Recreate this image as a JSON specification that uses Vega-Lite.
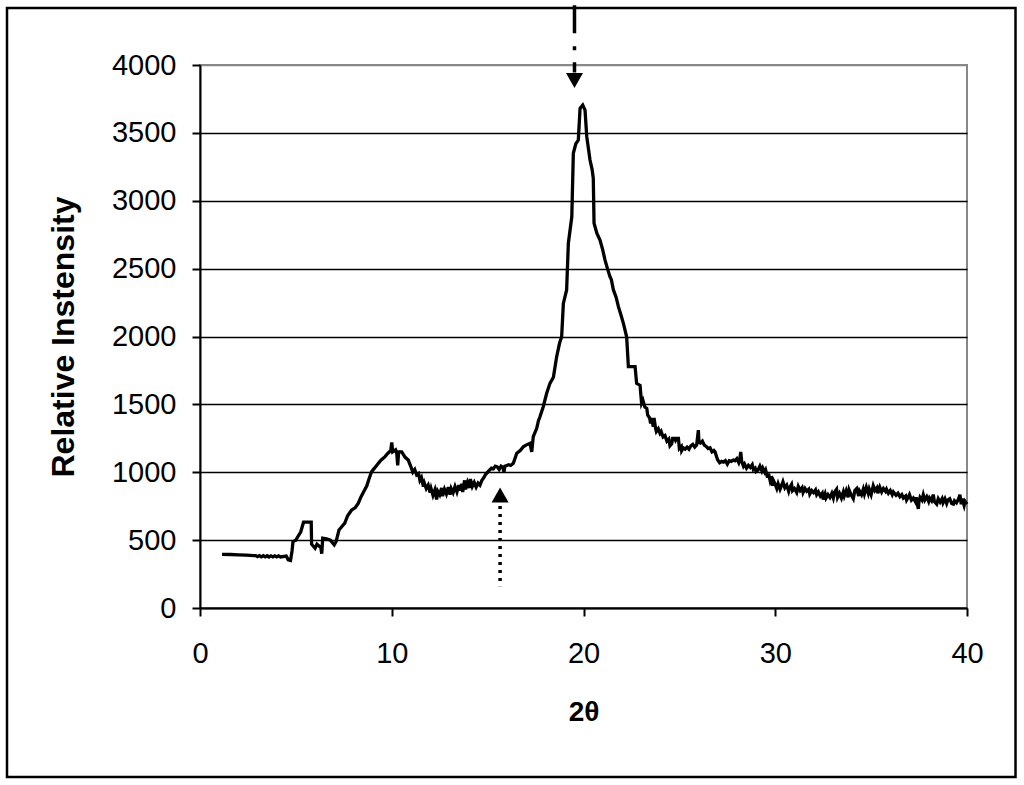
{
  "$schema": "https://vega.github.io/schema/vega-lite/v6.json",
  "width": 767,
  "height": 543,
  "autosize": "none",
  "padding": {"left": 200, "top": 65, "right": 57, "bottom": 177},
  "background": "white",
  "config": {
    "view": {"stroke": "#888888", "strokeWidth": 2},
    "font": "Liberation Sans",
    "axis": {
      "domainColor": "black", "domainWidth": 2,
      "tickColor": "black", "tickWidth": 2, "tickSize": 8,
      "labelFont": "Liberation Sans", "labelFontSize": 29, "labelColor": "black",
      "labelFlush": false, "labelOverlap": false,
      "titleFont": "Liberation Sans", "titleFontSize": 28, "titleFontWeight": "bold", "titleColor": "black",
      "gridColor": "black", "gridWidth": 1.5
    },
    "axisX": {"grid": false, "labelPadding": 23, "titlePadding": 30},
    "axisY": {"grid": true, "labelPadding": 16, "titlePadding": 31, "titleFontSize": 32}
  },
  "layer": [
    {
      "data": {"values": [{"x": -10.065, "x2": 42.53, "y": -1245, "y2": 4420}]},
      "mark": {"type": "rect", "filled": false, "color": "black", "strokeWidth": 2.5, "clip": false},
      "encoding": {
        "x": {"field": "x", "type": "quantitative", "title": "2θ", "scale": {"domain": [0, 40], "nice": false}},
        "x2": {"field": "x2"},
        "y": {"field": "y", "type": "quantitative", "title": "Relative Instensity", "scale": {"domain": [0, 4000], "nice": false}},
        "y2": {"field": "y2"}
      }
    },
    {
      "data": {"values": [
        {"x":1.15,"y":395},{"x":1.6,"y":394},{"x":2.0,"y":392},{"x":2.4,"y":389},{"x":2.8,"y":386},
        {"x":2.9,"y":386},{"x":3.0,"y":378},{"x":3.1,"y":386},{"x":3.2,"y":377},{"x":3.3,"y":385},{"x":3.4,"y":377},{"x":3.5,"y":385},{"x":3.6,"y":376},{"x":3.7,"y":384},{"x":3.8,"y":376},{"x":3.9,"y":384},{"x":4.0,"y":376},{"x":4.1,"y":384},{"x":4.2,"y":376},
        {"x":4.5,"y":383},{"x":4.6,"y":355},{"x":4.72,"y":350},{"x":4.8,"y":420},{"x":4.85,"y":490},{"x":5.0,"y":500},{"x":5.1,"y":525},{"x":5.25,"y":560},{"x":5.4,"y":632},{"x":5.8,"y":632},
        {"x":5.82,"y":470},{"x":6.0,"y":440},{"x":6.1,"y":470},{"x":6.3,"y":445},{"x":6.35,"y":400},{"x":6.4,"y":515},{"x":6.6,"y":510},{"x":6.8,"y":500},{"x":7.0,"y":465},{"x":7.1,"y":490},
        {"x":7.25,"y":575},{"x":7.4,"y":600},{"x":7.55,"y":625},{"x":7.7,"y":680},{"x":7.9,"y":720},{"x":8.1,"y":740},{"x":8.25,"y":770},{"x":8.4,"y":820},{"x":8.55,"y":860},{"x":8.7,"y":900},
        {"x":8.8,"y":945},{"x":8.95,"y":1005},{"x":9.1,"y":1030},{"x":9.3,"y":1066},{"x":9.45,"y":1090},{"x":9.65,"y":1115},{"x":9.8,"y":1140},{"x":9.95,"y":1160},{"x":10.0,"y":1220},{"x":10.05,"y":1150},
        {"x":10.2,"y":1165},{"x":10.26,"y":1140},{"x":10.31,"y":1050},{"x":10.36,"y":1150},{"x":10.52,"y":1150},{"x":10.7,"y":1110},{"x":10.86,"y":1090},{"x":11.0,"y":1040},
        {"x":11.1,"y":1000},{"x":11.2,"y":1020},{"x":11.3,"y":980},{"x":11.4,"y":990},{"x":11.47,"y":940},{"x":11.55,"y":960},{"x":11.65,"y":894},{"x":11.7,"y":920},{"x":11.8,"y":880},{"x":11.9,"y":905},
        {"x":12.0,"y":850},{"x":12.05,"y":880},{"x":12.15,"y":830},{"x":12.25,"y":870},{"x":12.34,"y":800},{"x":12.4,"y":860},{"x":12.5,"y":835},{"x":12.6,"y":885},{"x":12.65,"y":825},{"x":12.75,"y":875},
        {"x":12.85,"y":840},{"x":12.95,"y":890},{"x":13.04,"y":835},{"x":13.1,"y":880},{"x":13.2,"y":850},{"x":13.3,"y":895},{"x":13.4,"y":855},{"x":13.5,"y":905},{"x":13.56,"y":865},{"x":13.65,"y":915},
        {"x":13.7,"y":855},{"x":13.8,"y":940},{"x":13.85,"y":875},{"x":13.95,"y":925},{"x":14.05,"y":885},{"x":14.1,"y":950},{"x":14.2,"y":895},{"x":14.3,"y":925},{"x":14.4,"y":890},{"x":14.5,"y":920},
        {"x":14.6,"y":905},{"x":14.7,"y":940},{"x":14.8,"y":960},{"x":14.9,"y":985},{"x":15.0,"y":1000},{"x":15.1,"y":1015},{"x":15.2,"y":1030},{"x":15.3,"y":1025},{"x":15.4,"y":1045},{"x":15.5,"y":1040},
        {"x":15.6,"y":1020},{"x":15.7,"y":1045},{"x":15.8,"y":1035},{"x":15.85,"y":1000},{"x":15.9,"y":1045},{"x":16.0,"y":1050},{"x":16.1,"y":1055},{"x":16.2,"y":1050},{"x":16.34,"y":1066},
        {"x":16.52,"y":1140},{"x":16.7,"y":1160},{"x":16.86,"y":1188},{"x":17.0,"y":1200},
        {"x":17.21,"y":1213},{"x":17.3,"y":1150},{"x":17.38,"y":1262},{"x":17.56,"y":1324},{"x":17.65,"y":1380},{"x":17.73,"y":1409},{"x":17.9,"y":1483},{"x":18.08,"y":1582},{"x":18.25,"y":1655},{"x":18.43,"y":1700},
        {"x":18.6,"y":1851},{"x":18.75,"y":1950},{"x":18.86,"y":1998},{"x":18.95,"y":2244},{"x":19.12,"y":2343},{"x":19.21,"y":2687},{"x":19.39,"y":2882},{"x":19.47,"y":3350},{"x":19.6,"y":3420},{"x":19.73,"y":3447},
        {"x":19.82,"y":3681},{"x":19.96,"y":3705},{"x":20.08,"y":3668},{"x":20.17,"y":3472},{"x":20.34,"y":3300},{"x":20.45,"y":3230},{"x":20.51,"y":3165},{"x":20.55,"y":2834},{"x":20.7,"y":2760},{"x":20.86,"y":2711},
        {"x":21.0,"y":2640},{"x":21.12,"y":2564},{"x":21.25,"y":2500},{"x":21.38,"y":2441},{"x":21.45,"y":2420},{"x":21.56,"y":2343},{"x":21.7,"y":2290},{"x":21.82,"y":2220},{"x":21.95,"y":2160},{"x":22.08,"y":2097},
        {"x":22.25,"y":1998},{"x":22.34,"y":1778},{"x":22.69,"y":1778},{"x":22.77,"y":1655},{"x":22.95,"y":1640},
        {"x":23.03,"y":1508},{"x":23.1,"y":1530},{"x":23.2,"y":1480},{"x":23.3,"y":1470},{"x":23.35,"y":1420},{"x":23.45,"y":1400},{"x":23.5,"y":1360},{"x":23.55,"y":1400},{"x":23.64,"y":1336},{"x":23.68,"y":1400},
        {"x":23.75,"y":1330},{"x":23.8,"y":1300},{"x":23.9,"y":1320},{"x":23.99,"y":1287},{"x":24.05,"y":1300},{"x":24.15,"y":1260},{"x":24.25,"y":1270},{"x":24.35,"y":1230},{"x":24.45,"y":1245},{"x":24.51,"y":1195},
        {"x":24.6,"y":1210},{"x":24.65,"y":1250},{"x":24.75,"y":1250},{"x":24.8,"y":1235},{"x":24.86,"y":1250},{"x":24.95,"y":1250},{"x":25.0,"y":1175},{"x":25.1,"y":1190},{"x":25.12,"y":1160},{"x":25.2,"y":1180},
        {"x":25.3,"y":1170},{"x":25.4,"y":1185},{"x":25.5,"y":1170},{"x":25.6,"y":1195},{"x":25.7,"y":1205},{"x":25.8,"y":1185},{"x":25.9,"y":1200},{"x":25.99,"y":1310},{"x":26.02,"y":1220},{"x":26.1,"y":1215},
        {"x":26.2,"y":1230},{"x":26.3,"y":1200},{"x":26.4,"y":1190},{"x":26.5,"y":1175},{"x":26.6,"y":1180},{"x":26.7,"y":1150},{"x":26.8,"y":1160},{"x":26.86,"y":1150},{"x":26.95,"y":1110},{"x":27.0,"y":1090},
        {"x":27.1,"y":1070},{"x":27.2,"y":1080},{"x":27.3,"y":1075},{"x":27.4,"y":1085},{"x":27.5,"y":1060},{"x":27.6,"y":1085},{"x":27.7,"y":1080},{"x":27.81,"y":1090},{"x":27.9,"y":1085},{"x":28.0,"y":1100},
        {"x":28.1,"y":1070},{"x":28.15,"y":1090},{"x":28.2,"y":1150},{"x":28.25,"y":1080},{"x":28.34,"y":1045},{"x":28.4,"y":1060},{"x":28.5,"y":1030},{"x":28.6,"y":1050},{"x":28.7,"y":1035},{"x":28.8,"y":1055},
        {"x":28.86,"y":1020},{"x":28.95,"y":1030},{"x":29.0,"y":1005},{"x":29.1,"y":1015},{"x":29.2,"y":1045},{"x":29.3,"y":1010},{"x":29.35,"y":1030},{"x":29.45,"y":1000},{"x":29.5,"y":1015},{"x":29.6,"y":960},
        {"x":29.65,"y":990},{"x":29.73,"y":940},{"x":29.8,"y":970},{"x":29.85,"y":900},{"x":29.9,"y":940},{"x":30.0,"y":910},{"x":30.08,"y":880},{"x":30.15,"y":915},{"x":30.25,"y":875},{"x":30.35,"y":910},
        {"x":30.4,"y":930},{"x":30.5,"y":885},{"x":30.6,"y":905},{"x":30.7,"y":860},{"x":30.75,"y":885},{"x":30.85,"y":910},{"x":30.9,"y":865},{"x":31.0,"y":880},{"x":31.12,"y":850},{"x":31.2,"y":895},
        {"x":31.3,"y":865},{"x":31.4,"y":885},{"x":31.45,"y":850},{"x":31.55,"y":880},{"x":31.64,"y":860},{"x":31.75,"y":875},{"x":31.8,"y":840},{"x":31.9,"y":865},{"x":32.0,"y":850},{"x":32.1,"y":870},
        {"x":32.16,"y":835},{"x":32.25,"y":855},{"x":32.35,"y":825},{"x":32.45,"y":845},{"x":32.5,"y":800},{"x":32.6,"y":840},{"x":32.65,"y":810},{"x":32.75,"y":835},{"x":32.85,"y":815},{"x":32.95,"y":845},
        {"x":33.03,"y":810},{"x":33.1,"y":855},{"x":33.2,"y":875},{"x":33.25,"y":815},{"x":33.35,"y":845},{"x":33.45,"y":810},{"x":33.55,"y":855},{"x":33.6,"y":825},{"x":33.7,"y":865},{"x":33.8,"y":815},
        {"x":33.85,"y":870},{"x":33.95,"y":835},{"x":34.07,"y":805},{"x":34.15,"y":865},{"x":34.25,"y":880},{"x":34.35,"y":825},{"x":34.4,"y":860},{"x":34.5,"y":835},{"x":34.59,"y":875},{"x":34.65,"y":840},
        {"x":34.75,"y":890},{"x":34.85,"y":845},{"x":34.9,"y":875},{"x":35.0,"y":835},{"x":35.11,"y":900},{"x":35.2,"y":865},{"x":35.3,"y":885},{"x":35.35,"y":845},{"x":35.45,"y":890},{"x":35.55,"y":855},
        {"x":35.64,"y":880},{"x":35.75,"y":860},{"x":35.8,"y":875},{"x":35.9,"y":845},{"x":36.0,"y":865},{"x":36.1,"y":835},{"x":36.16,"y":855},{"x":36.3,"y":830},{"x":36.4,"y":845},{"x":36.5,"y":820},
        {"x":36.6,"y":835},{"x":36.68,"y":810},{"x":36.8,"y":825},{"x":36.85,"y":795},{"x":36.95,"y":820},{"x":37.0,"y":835},{"x":37.1,"y":795},{"x":37.2,"y":810},{"x":37.3,"y":785},{"x":37.35,"y":815},
        {"x":37.46,"y":730},{"x":37.5,"y":790},{"x":37.55,"y":815},{"x":37.65,"y":795},{"x":37.72,"y":835},{"x":37.8,"y":795},{"x":37.9,"y":820},{"x":38.0,"y":785},{"x":38.05,"y":810},{"x":38.15,"y":790},
        {"x":38.24,"y":835},{"x":38.3,"y":785},{"x":38.42,"y":765},{"x":38.5,"y":805},{"x":38.6,"y":780},{"x":38.7,"y":805},{"x":38.75,"y":775},{"x":38.85,"y":805},{"x":38.94,"y":770},{"x":39.0,"y":795},
        {"x":39.1,"y":805},{"x":39.2,"y":770},{"x":39.29,"y":765},{"x":39.35,"y":790},{"x":39.45,"y":775},{"x":39.55,"y":800},{"x":39.63,"y":835},{"x":39.7,"y":765},{"x":39.75,"y":805},{"x":39.85,"y":755},
        {"x":39.9,"y":785},{"x":40.0,"y":765}
      ]},
      "mark": {"type": "line", "color": "black", "strokeWidth": 3.3, "strokeJoin": "miter"},
      "encoding": {
        "x": {"field": "x", "type": "quantitative", "title": "2θ", "scale": {"domain": [0, 40], "nice": false}, "axis": {"values": [0, 10, 20, 30, 40], "format": "d"}},
        "y": {"field": "y", "type": "quantitative", "title": "Relative Instensity", "scale": {"domain": [0, 4000], "nice": false},
              "axis": {"values": [0, 500, 1000, 1500, 2000, 2500, 3000, 3500, 4000], "format": "d",
                       "gridColor": {"condition": {"test": "datum.value >= 4000", "value": "#888888"}, "value": "black"}}}
      }
    },
    {
      "data": {"values": [{"x": 19.53, "y": 4440, "y2": 3945}]},
      "mark": {"type": "rule", "color": "black", "strokeWidth": 3.5, "strokeDash": [28, 13, 4, 12], "clip": false},
      "encoding": {
        "x": {"field": "x", "type": "quantitative", "title": "2θ"},
        "y": {"field": "y", "type": "quantitative", "title": "Relative Instensity"},
        "y2": {"field": "y2"}
      }
    },
    {
      "data": {"values": [{"x": 15.65, "y": 751, "y2": 160}]},
      "mark": {"type": "rule", "color": "black", "strokeWidth": 3.5, "strokeDash": [3, 5], "clip": false},
      "encoding": {
        "x": {"field": "x", "type": "quantitative", "title": "2θ"},
        "y": {"field": "y", "type": "quantitative", "title": "Relative Instensity"},
        "y2": {"field": "y2"}
      }
    },
    {
      "data": {"values": [{"x": 19.53, "y": 3886, "dir": "down"}, {"x": 15.65, "y": 832, "dir": "up"}]},
      "mark": {"type": "point", "filled": true, "color": "black", "opacity": 1, "size": 289, "strokeWidth": 0},
      "encoding": {
        "x": {"field": "x", "type": "quantitative", "title": "2θ"},
        "y": {"field": "y", "type": "quantitative", "title": "Relative Instensity"},
        "shape": {"field": "dir", "type": "nominal", "legend": null,
                  "scale": {"domain": ["down", "up"], "range": ["M-1,-0.88L1,-0.88L0,0.88Z", "M0,-0.88L1,0.88L-1,0.88Z"]}}
      }
    }
  ]
}
